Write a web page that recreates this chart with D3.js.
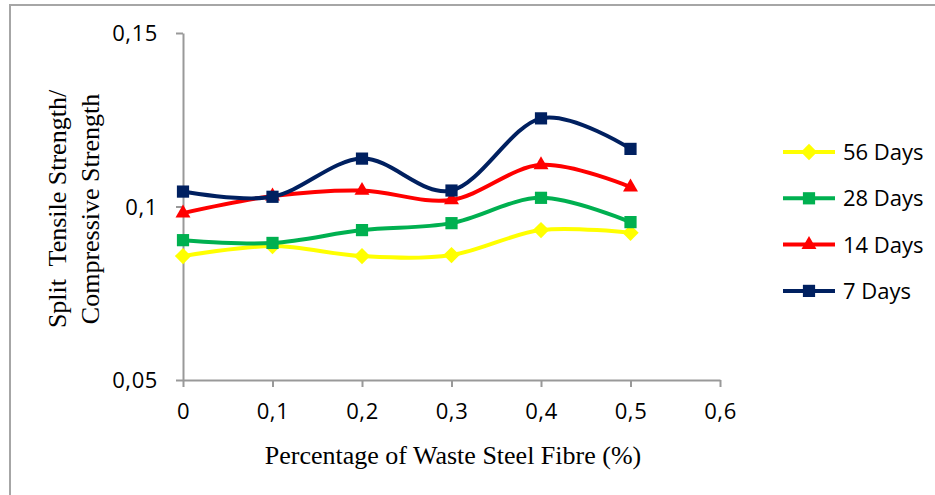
<!DOCTYPE html>
<html>
<head>
<meta charset="utf-8">
<script src="https://cdn.jsdelivr.net/npm/d3@7"></script>
<style>
  body { margin: 0; background: #fff; }
  svg { display: block; }
</style>
</head>
<body>
<svg id="chart" width="935" height="495"></svg>
<script>
// DATA
const fibre = [0, 0.1, 0.2, 0.3, 0.4, 0.5];
const days56 = [0.0857, 0.0886, 0.0857, 0.0860, 0.0932, 0.0924];
const days28 = [0.0903, 0.0895, 0.0932, 0.0952, 0.1025, 0.0955];
const days14 = [0.0981, 0.1030, 0.1046, 0.1019, 0.1120, 0.1056];
const days7 = [0.1043, 0.1028, 0.1138, 0.1046, 0.1254, 0.1166];
const xTicks = [0, 0.1, 0.2, 0.3, 0.4, 0.5, 0.6];
const yTicks = [0.05, 0.1, 0.15];

const series = [
  { name: "56 Days", values: days56, color: "#ffff00", marker: "diamond" },
  { name: "28 Days", values: days28, color: "#00b050", marker: "square" },
  { name: "14 Days", values: days14, color: "#ff0000", marker: "triangle" },
  { name: "7 Days", values: days7, color: "#002060", marker: "square" },
];

// CANVAS SETUP
const svg = d3.select("#chart");
const margin = { top: 33, left: 183 },
  plotW = 720 - 183,
  plotH = 380 - 33;

const fmt = (v) => String(v).replace(".", ",");
const sans = "'Open Sans', sans-serif";
const serif = "'Liberation Serif', 'Times New Roman', serif";

// chart frame (only top + left edges visible)
svg.append("path")
  .attr("d", "M10,500 V5 H940")
  .attr("fill", "none")
  .attr("stroke", "#a6a6a6")
  .attr("stroke-width", 2);

const g = svg.append("g").attr("transform", `translate(${margin.left},${margin.top})`);

const x = d3.scaleLinear().domain([0, 0.6]).range([0, plotW]);
const y = d3.scaleLinear().domain([0.05, 0.15]).range([plotH, 0]);

// AXES
const xAxis = g.append("g")
  .attr("transform", `translate(0,${plotH})`)
  .call(d3.axisBottom(x).tickValues(xTicks).tickFormat(fmt).tickSizeInner(7).tickSizeOuter(0).tickPadding(16));
const yAxis = g.append("g")
  .call(d3.axisLeft(y).tickValues(yTicks).tickFormat(fmt).tickSizeInner(7).tickSizeOuter(0).tickPadding(18));

[xAxis, yAxis].forEach((a) => {
  a.select(".domain").attr("stroke", "#999").attr("stroke-width", 2);
  a.selectAll(".tick line").attr("stroke", "#999").attr("stroke-width", 2);
  a.selectAll(".tick text")
    .attr("fill", "#000")
    .style("font-family", sans)
    .style("font-size", "22px")
    .style("letter-spacing", "0.6px");
});
yAxis.selectAll(".tick text").attr("dy", "0.35em");

// axis titles
svg.append("text")
  .attr("x", 453)
  .attr("y", 464)
  .attr("text-anchor", "middle")
  .style("font-family", serif)
  .style("font-size", "26px")
  .text("Percentage of Waste Steel Fibre (%)");

const yTitle = svg.append("text")
  .attr("transform", "translate(0,209) rotate(-90)")
  .attr("text-anchor", "middle")
  .style("font-family", serif)
  .style("font-size", "26px")
  .style("white-space", "pre");
yTitle.append("tspan").attr("x", 0).attr("y", 66).text("Split  Tensile Strength/");
yTitle.append("tspan").attr("x", 0).attr("y", 99).text("Compressive Strength");

// MARKERS
function markerPath(type) {
  if (type === "diamond") return d3.symbol(d3.symbolDiamond2, 170)();
  if (type === "triangle") return d3.symbol(d3.symbolTriangle2, 160)();
  return d3.symbol(d3.symbolSquare2, 190)();
}

const line = d3.line()
  .x((d, i) => x(fibre[i]))
  .y((d) => y(d))
  .curve(d3.curveCardinal.tension(0));

const sg = g.selectAll(".series")
  .data(series)
  .join("g")
  .attr("class", "series");

sg.append("path")
  .attr("d", (d) => line(d.values))
  .attr("fill", "none")
  .attr("stroke", (d) => d.color)
  .attr("stroke-width", 4);

sg.each(function (s) {
  d3.select(this).selectAll("path.mark")
    .data(s.values)
    .join("path")
    .attr("class", "mark")
    .attr("d", markerPath(s.marker))
    .attr("transform", (d, i) => `translate(${x(fibre[i])},${y(d)})`)
    .attr("fill", s.color);
});

// LEGEND
const legend = svg.append("g").attr("transform", "translate(783,152)");
const item = legend.selectAll("g")
  .data(series)
  .join("g")
  .attr("transform", (d, i) => `translate(0,${i * 46.3})`);

item.append("line")
  .attr("x1", 0).attr("x2", 52)
  .attr("stroke", (d) => d.color)
  .attr("stroke-width", 4);
item.append("path")
  .attr("d", (d) => markerPath(d.marker))
  .attr("transform", "translate(26,0)")
  .attr("fill", (d) => d.color);
item.append("text")
  .attr("x", 60)
  .attr("dy", "0.36em")
  .style("font-family", sans)
  .style("font-size", "22px")
  .text((d) => d.name);
</script>
</body>
</html>
